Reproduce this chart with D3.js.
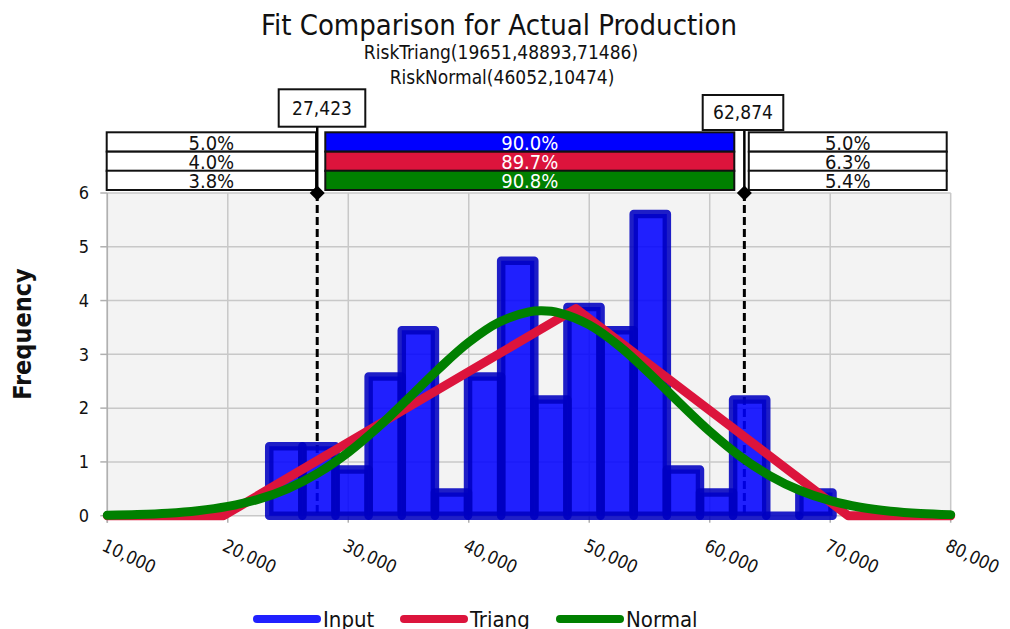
<!DOCTYPE html>
<html><head><meta charset="utf-8">
<script src="https://cdn.jsdelivr.net/npm/d3@7"></script>
<style>html,body{margin:0;padding:0;background:#fff;} svg{display:block;}</style>
</head><body><svg id="chart" width="1010" height="629"></svg>
<script>
// ---------- data ----------
const title = "Fit Comparison for Actual Production";
const subtitles = ["RiskTriang(19651,48893,71486)", "RiskNormal(46052,10474)"];
const yLabel = "Frequency";
const xTicks = [10000, 20000, 30000, 40000, 50000, 60000, 70000, 80000];
const yTicks = [0, 1, 2, 3, 4, 5, 6];
const binEdges = [23440, 26190, 28940, 31690, 34440, 37190, 39940, 42690, 45440, 48190, 50940, 53690, 56440, 59190, 61940, 64690, 67440, 70190];
const binHeights = [1.29, 1.29, 0.86, 2.59, 3.45, 0.43, 2.59, 4.74, 2.16, 3.88, 3.45, 5.61, 0.86, 0.43, 2.16, 0, 0.43];
const triangX = [10000, 19651, 48893, 71486, 80000];
const triangY = [0, 0, 3.85, 0, 0];
const normalX = [10000, 12500, 15000, 17500, 20000, 22500, 25000, 27500, 30000, 32500, 35000, 37500, 40000, 42500, 45000, 46052, 47500, 50000, 52500, 55000, 57500, 60000, 62500, 65000, 67500, 70000, 72500, 75000, 77500, 80000];
const normalY = [0.010, 0.023, 0.047, 0.093, 0.173, 0.304, 0.505, 0.794, 1.177, 1.649, 2.183, 2.729, 3.224, 3.596, 3.790, 3.809, 3.773, 3.548, 3.152, 2.645, 2.096, 1.569, 1.110, 0.742, 0.468, 0.279, 0.157, 0.084, 0.042, 0.020];
const cutoffs = [27423, 62874];
const cutoffLabels = ["27,423", "62,874"];
const leftPct = ["5.0%", "4.0%", "3.8%"];
const midPct = ["90.0%", "89.7%", "90.8%"];
const rightPct = ["5.0%", "6.3%", "5.4%"];
const seriesNames = ["Input", "Triang", "Normal"];
const seriesColors = ["#2020ff", "#dc143c", "#008000"];

// ---------- setup ----------
const FONT = "'DejaVu Sans Condensed','DejaVu Sans',sans-serif";
const svg = d3.select("#chart").style("font-family", FONT).style("font-stretch", "condensed");
const x = d3.scaleLinear().domain([10000, 80000]).range([107.3, 950.7]);
const y = d3.scaleLinear().domain([0, 6]).range([515.7, 193]);

// titles
svg.append("text").attr("x", 499).attr("y", 35).attr("text-anchor", "middle")
  .attr("font-size", 29).attr("fill", "#111").text(title);
svg.append("text").attr("x", 501).attr("y", 59).attr("text-anchor", "middle")
  .attr("font-size", 19).attr("fill", "#111").text(subtitles[0]);
svg.append("text").attr("x", 502).attr("y", 84).attr("text-anchor", "middle")
  .attr("font-size", 19).attr("fill", "#111").text(subtitles[1]);

// plot background
svg.append("rect").attr("x", x(10000)).attr("y", y(6))
  .attr("width", x(80000) - x(10000)).attr("height", y(0) - y(6)).attr("fill", "#f3f3f3");

// grid
svg.append("g").selectAll("line").data(xTicks).join("line")
  .attr("x1", d => x(d)).attr("x2", d => x(d)).attr("y1", y(6)).attr("y2", y(0))
  .attr("stroke", "#c8c8c8").attr("stroke-width", 1.5);
svg.append("g").selectAll("line").data(yTicks).join("line")
  .attr("x1", x(10000)).attr("x2", x(80000)).attr("y1", d => y(d)).attr("y2", d => y(d))
  .attr("stroke", "#c8c8c8").attr("stroke-width", 1.5);

// axes ticks
svg.append("line").attr("x1", x(10000)).attr("x2", x(10000)).attr("y1", y(6)).attr("y2", y(0) + 7)
  .attr("stroke", "#b0b0b0").attr("stroke-width", 1.5);
svg.append("g").selectAll("line").data(yTicks).join("line")
  .attr("x1", x(10000) - 7).attr("x2", x(10000)).attr("y1", d => y(d)).attr("y2", d => y(d))
  .attr("stroke", "#b0b0b0").attr("stroke-width", 1.5);
svg.append("g").selectAll("line").data(xTicks).join("line")
  .attr("x1", d => x(d)).attr("x2", d => x(d)).attr("y1", y(0)).attr("y2", y(0) + 7)
  .attr("stroke", "#b0b0b0").attr("stroke-width", 1.5);

svg.append("g").selectAll("text").data(yTicks).join("text")
  .attr("x", 89).attr("y", d => y(d)).attr("dy", "0.35em").attr("text-anchor", "end")
  .attr("font-size", 18).attr("fill", "#111").text(d => d);
const fmt = d3.format(",");
svg.append("g").selectAll("text").data(xTicks).join("text")
  .attr("transform", d => `translate(${x(d) - 6.5},550) rotate(25)`)
  .attr("font-size", 18).attr("fill", "#111").text(d => fmt(d));

svg.append("text").attr("transform", "translate(31,334) rotate(-90)").attr("text-anchor", "middle")
  .attr("font-size", 25).attr("font-weight", "bold").attr("fill", "#111").text(yLabel);

// dashed cutoff lines (under bars)
svg.append("g").selectAll("line").data(cutoffs).join("line")
  .attr("x1", d => x(d)).attr("x2", d => x(d)).attr("y1", y(6)).attr("y2", y(0))
  .attr("stroke", "#000").attr("stroke-width", 3).attr("stroke-dasharray", "8,4");

// bars
const bins = binHeights.map((h, i) => ({x0: binEdges[i], x1: binEdges[i + 1], h}));
const barPath = d => `M${x(d.x0)},${y(0)}V${y(d.h)}H${x(d.x1)}V${y(0)}Z`;
const gb = svg.append("g");
gb.selectAll("path.fill").data(bins).join("path").attr("class", "fill")
  .attr("d", barPath).attr("fill", "#0000ff").attr("fill-opacity", 0.87).attr("stroke", "none");
gb.selectAll("path.edge").data(bins).join("path").attr("class", "edge")
  .attr("d", barPath).attr("fill", "none").attr("stroke", "#0000c0").attr("stroke-opacity", 0.88)
  .attr("stroke-width", 8.5).attr("stroke-linejoin", "round");

// curves
const tri = triangX.map((v, i) => [v, triangY[i]]);
const nor = normalX.map((v, i) => [v, normalY[i]]);
svg.append("path").datum(tri).attr("d", d3.line().x(d => x(d[0])).y(d => y(d[1])))
  .attr("fill", "none").attr("stroke", seriesColors[1]).attr("stroke-width", 9)
  .attr("stroke-linejoin", "round").attr("stroke-linecap", "round");
svg.append("path").datum(nor).attr("d", d3.line().curve(d3.curveCatmullRom).x(d => x(d[0])).y(d => y(d[1])))
  .attr("fill", "none").attr("stroke", seriesColors[2]).attr("stroke-width", 9)
  .attr("stroke-linejoin", "round").attr("stroke-linecap", "round");

// percentage boxes
const rowTop = [132.3, 151.7, 170.7];
const rowH = 19.3;
function boxColumn(x0, x1, labels, fills, textColor) {
  const g = svg.append("g");
  labels.forEach((t, i) => {
    g.append("rect").attr("x", x0).attr("y", rowTop[i]).attr("width", x1 - x0).attr("height", rowH)
      .attr("fill", fills ? fills[i] : "#fff").attr("stroke", "#111").attr("stroke-width", 2);
    g.append("text").attr("x", (x0 + x1) / 2).attr("y", rowTop[i] + rowH - 2).attr("text-anchor", "middle")
      .attr("font-size", 20).attr("fill", textColor).text(t);
  });
}
boxColumn(106.7, 316, leftPct, null, "#111");
boxColumn(325.3, 734.3, midPct, ["#0000ff", "#dc143c", "#008000"], "#fff");
boxColumn(748.8, 946.7, rightPct, null, "#111");

// cutoff markers: solid connector + diamond + value box
const boxes = [{x0: 278.7, x1: 365.3, y0: 89.3, y1: 126.7}, {x0: 702.7, x1: 783.3, y0: 95, y1: 130}];
cutoffs.forEach((c, i) => {
  const b = boxes[i];
  svg.append("line").attr("x1", x(c)).attr("x2", x(c)).attr("y1", b.y1).attr("y2", y(6))
    .attr("stroke", "#000").attr("stroke-width", 2.5);
  svg.append("path").attr("d", `M${x(c)},${y(6) - 7.5}L${x(c) + 7.5},${y(6)}L${x(c)},${y(6) + 7.5}L${x(c) - 7.5},${y(6)}Z`)
    .attr("fill", "#000");
  svg.append("rect").attr("x", b.x0).attr("y", b.y0).attr("width", b.x1 - b.x0).attr("height", b.y1 - b.y0)
    .attr("fill", "#fff").attr("stroke", "#111").attr("stroke-width", 2);
  svg.append("text").attr("x", (b.x0 + b.x1) / 2).attr("y", (b.y0 + b.y1) / 2).attr("dy", "0.36em")
    .attr("text-anchor", "middle").attr("font-size", 19).attr("fill", "#111").text(cutoffLabels[i]);
});

// legend
const legX = [257, 404, 560];
const legG = svg.append("g");
seriesNames.forEach((n, i) => {
  legG.append("line").attr("x1", legX[i]).attr("x2", legX[i] + 60).attr("y1", 619).attr("y2", 619)
    .attr("stroke", seriesColors[i]).attr("stroke-width", 8).attr("stroke-linecap", "round");
  legG.append("text").attr("x", legX[i] + 66).attr("y", 627).attr("font-size", 22).attr("fill", "#111").text(n);
});
</script></body></html>
